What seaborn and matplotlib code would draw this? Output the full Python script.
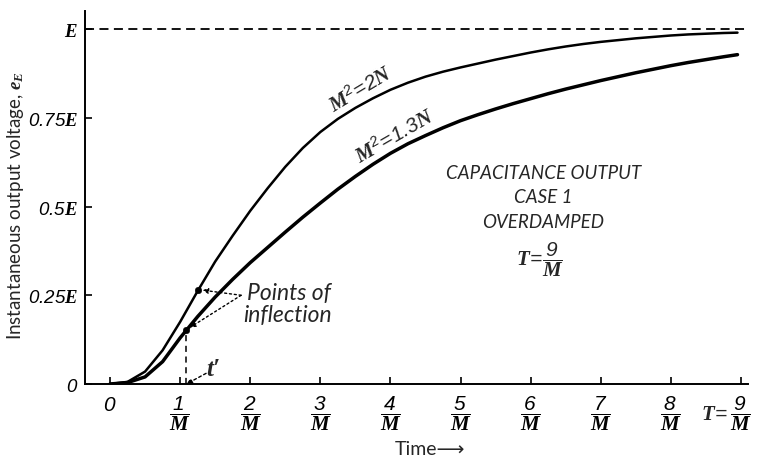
import seaborn as sns
import matplotlib.pyplot as plt

# === Data (time in units of 1/M, voltage in units of E) ===
time_pts = [0, 0.25, 0.5, 0.75, 1.0, 1.25, 1.5, 1.75, 2.0, 2.25, 2.5, 2.75,
            3.0, 3.25, 3.5, 3.75, 4.0, 4.25, 4.5, 4.75, 5.0, 5.25, 5.5, 5.75,
            6.0, 6.25, 6.5, 6.75, 7.0, 7.25, 7.5, 7.75, 8.0, 8.25, 8.5, 8.75, 8.95]
volt_2n = [0, 0.006, 0.035, 0.095, 0.175, 0.262, 0.345, 0.418, 0.488, 0.552, 0.612, 0.665,
           0.71, 0.747, 0.778, 0.805, 0.829, 0.849, 0.866, 0.880, 0.892, 0.903, 0.914, 0.924,
           0.934, 0.943, 0.951, 0.958, 0.964, 0.969, 0.974, 0.978, 0.982, 0.985, 0.987, 0.989, 0.99]
volt_13n = [0, 0.004, 0.02, 0.063, 0.13, 0.19, 0.245, 0.295, 0.342, 0.385, 0.428, 0.47,
            0.51, 0.549, 0.585, 0.619, 0.65, 0.677, 0.70, 0.722, 0.742, 0.759, 0.775, 0.79,
            0.804, 0.818, 0.831, 0.843, 0.855, 0.866, 0.877, 0.887, 0.897, 0.906, 0.914, 0.922, 0.928]

inflect_t = [1.26, 1.09]
inflect_v = [0.266, 0.153]
t_prime = 1.09
final_value = 1.0

x_ticks = [0, 1, 2, 3, 4, 5, 6, 7, 8, 9]
x_ticklabels = [r"$0$"] + [r"$\dfrac{%d}{\mathbf{M}}$" % k for k in range(1, 10)]
y_ticks = [0, 0.25, 0.5, 0.75, 1.0]
y_ticklabels = [r"$0$", r"$0.25\mathbf{E}$", r"$0.5\mathbf{E}$", r"$0.75\mathbf{E}$", r"$\mathbf{E}$"]

# === Style ===
sns.set_theme(style="ticks")
plt.rcParams["font.family"] = ["Lato", "DejaVu Sans"]
plt.rcParams["mathtext.fontset"] = "custom"
plt.rcParams["mathtext.rm"] = "Liberation Sans:italic"
plt.rcParams["mathtext.it"] = "Liberation Sans:italic"
plt.rcParams["mathtext.bf"] = "Liberation Serif:bold:italic"

fig = plt.figure(figsize=(7.62, 4.6), dpi=100)
ax = fig.add_axes([85 / 762, 75 / 460, 663 / 762, 373 / 460])

# === Curves ===
sns.lineplot(x=time_pts, y=volt_2n, color="black", linewidth=1.8, ax=ax)
sns.lineplot(x=time_pts, y=volt_13n, color="black", linewidth=2.5, ax=ax)
ax.axhline(final_value, color="black", linewidth=1.3, linestyle=(0, (5, 3)))

sns.scatterplot(x=inflect_t, y=inflect_v, s=22, color="black", edgecolor="black", ax=ax, zorder=5)
ax.vlines(t_prime, 0, inflect_v[1], colors="black", linewidth=1.1, linestyles=(0, (4, 3)))

# === Axes ===
ax.set_xlim(-0.357, 9.10)
ax.set_ylim(0, 1.051)
ax.set_xticks(x_ticks)
ax.set_xticklabels(x_ticklabels, fontsize=15)
ax.set_yticks(y_ticks)
ax.set_yticklabels(y_ticklabels, fontsize=13.5)
ax.tick_params(axis="x", direction="in", length=5, width=1.2, pad=7, colors="black")
ax.tick_params(axis="y", direction="in", length=5, width=1.2, pad=5, colors="black")
sns.despine(ax=ax)
for side in ["left", "bottom"]:
    ax.spines[side].set_linewidth(1.4)
    ax.spines[side].set_color("black")

ax.text(8.62, -0.082, r"$\mathbf{T}\!=$", fontsize=15, ha="center", va="center", clip_on=False)

fig.text(16 / 762, 0.554, r"Instantaneous output voltage, $\mathbf{e_E}$",
         rotation=90, ha="center", va="center", fontsize=13.5)
fig.text(430 / 762, 1 - 450 / 460, "Time\u27f6", ha="center", va="center", fontsize=14)

# === Annotations ===
ax.text(3.57, 0.835, r"$\mathbf{M}^{2}\!=\!2\mathbf{N}$", fontsize=15,
        rotation=31, rotation_mode="anchor", ha="center", va="center")
ax.text(4.05, 0.702, r"$\mathbf{M}^{2}\!=\!1.3\mathbf{N}$", fontsize=15,
        rotation=30, rotation_mode="anchor", ha="center", va="center")

ax.text(1.954, 0.239, "Points of", style="italic", fontsize=16.5, ha="left", va="baseline")
ax.text(1.897, 0.177, "inflection", style="italic", fontsize=16.5, ha="left", va="baseline")
for tx, ty in zip(inflect_t, inflect_v):
    ax.annotate("", xy=(tx, ty), xytext=(1.87, 0.25),
                arrowprops=dict(arrowstyle="-|>", linestyle=(0, (1.5, 2)), lw=1.0,
                                color="black", shrinkA=0, shrinkB=3, mutation_scale=8))

ax.text(1.47, 0.045, "t\u2032", family=["Liberation Serif", "DejaVu Serif"], style="italic",
        weight="bold", fontsize=18, ha="center", va="center")
ax.annotate("", xy=(t_prime, 0), xytext=(1.37, 0.03),
            arrowprops=dict(arrowstyle="-|>", linestyle=(0, (2, 2)), lw=1.0,
                            color="black", shrinkA=0, shrinkB=0, mutation_scale=8))

ax.text(6.18, 0.597, "CAPACITANCE OUTPUT", style="italic", fontsize=13.5, ha="center", va="center")
ax.text(6.18, 0.527, "CASE 1", style="italic", fontsize=13.5, ha="center", va="center")
ax.text(6.18, 0.459, "OVERDAMPED", style="italic", fontsize=13.5, ha="center", va="center")
ax.text(6.13, 0.352, r"$\mathbf{T}\!=\!\dfrac{9}{\mathbf{M}}$", fontsize=15, ha="center", va="center")

fig.savefig("out.png", dpi=100)
